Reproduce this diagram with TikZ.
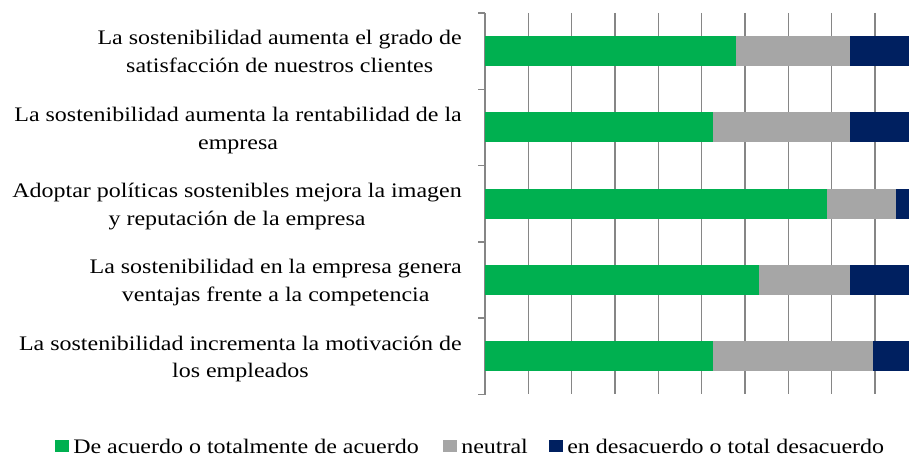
\documentclass[tikz,border=0pt]{standalone}
\usepackage{fontspec}
\setmainfont{Liberation Serif}
\definecolor{cgreen}{HTML}{00B050}
\definecolor{cgray}{HTML}{A6A6A6}
\definecolor{cnavy}{HTML}{002060}
\definecolor{cgrid}{HTML}{868686}
\newcommand{\wide}[1]{\scalebox{1.16}[1]{#1}}
\newcommand{\twolines}[2]{\wide{\begin{tabular}[t]{@{}c@{}}#1\\#2\end{tabular}}}
\begin{document}
\begin{tikzpicture}[x=0.75pt,y=-0.75pt,
  lab/.style={font=\fontsize{15.5}{20.8}\selectfont, anchor=base east, inner sep=0pt},
  leg/.style={font=\fontsize{15.5}{20}\selectfont, anchor=base west, inner sep=0pt},
  gridline/.style={draw=cgrid, line width=1.1pt},
  legsq/.style={minimum width=10.5pt, minimum height=9pt, inner sep=0pt, anchor=center}
]
\useasboundingbox (0,0) rectangle (909,459);
\begin{scope}
\clip (0,0) rectangle (909,459);
\foreach \k in {1,...,10} \draw[gridline] ({485+43.333*\k},13) -- ({485+43.333*\k},394);
\draw[gridline] (485,13) -- (485,394.5);
\foreach \t in {0,...,5} \draw[gridline] (478,{13+76.27*\t}) -- (485,{13+76.27*\t});
\foreach \c/\g/\n in {0/57.89/84.21, 1/52.63/84.21, 2/78.95/94.74, 3/63.16/84.21, 4/52.63/89.47} {
  \pgfmathsetmacro\yc{51.2+76.27*\c}
  \fill[cgreen] (485,{\yc-15}) rectangle ({485+4.3333*\g},{\yc+15});
  \fill[cgray] ({485+4.3333*\g},{\yc-15}) rectangle ({485+4.3333*\n},{\yc+15});
  \fill[cnavy] ({485+4.3333*\n},{\yc-15}) rectangle (918.3,{\yc+15});
}
\end{scope}
\node[lab] (l1) at (462,45) {\twolines{La sostenibilidad aumenta el grado de}{satisfacción de nuestros clientes}};
\node[lab] (l2) at (462,121.3) {\twolines{La sostenibilidad aumenta la rentabilidad de la}{empresa}};
\node[lab] (l3) at (462,197.6) {\twolines{Adoptar políticas sostenibles mejora la imagen}{y reputación de la empresa}};
\node[lab] (l4) at (462,273.9) {\twolines{La sostenibilidad en la empresa genera}{ventajas frente a la competencia}};
\node[lab] (l5) at (462,350.1) {\twolines{La sostenibilidad incrementa la motivación de}{los empleados}};
\node[legsq, fill=cgreen] (s1) at (62,446) {};
\node[leg] (t1) at (73,453) {\wide{De acuerdo o totalmente de acuerdo}};
\node[legsq, fill=cgray] (s2) at (450,446) {};
\node[leg] (t2) at (461,453) {\wide{neutral}};
\node[legsq, fill=cnavy] (s3) at (556,446) {};
\node[leg] (t3) at (567,453) {\wide{en desacuerdo o total desacuerdo}};
\end{tikzpicture}
\end{document}
